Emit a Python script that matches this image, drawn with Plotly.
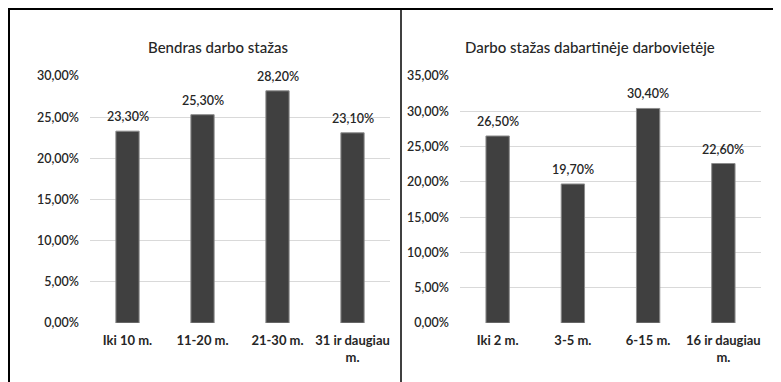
import plotly.graph_objects as go

W, H = 781, 382
OFF = 8  # page body margin offset

# Data
cats_left = ["Iki 10 m.", "11-20 m.", "21-30 m.", "31 ir daugiau<br>m."]
vals_left = [23.3, 25.3, 28.2, 23.1]
title_left = "Bendras darbo stažas"

cats_right = ["Iki 2 m.", "3-5 m.", "6-15 m.", "16 ir daugiau<br>m."]
vals_right = [26.5, 19.7, 30.4, 22.6]
title_right = "Darbo stažas dabartinėje darbovietėje"

ticks_left = [0, 5, 10, 15, 20, 25, 30]
ticks_right = [0, 5, 10, 15, 20, 25, 30, 35]


def pct(v):
    return f"{v:.2f}".replace(".", ",") + "%"


def px(x):
    return (x - OFF) / W


def py(y):
    return 1 - (y - OFF) / H


FONT = "Lato"
TXT = "#262626"
BAR = "#404040"
GRID = "#d9d9d9"

fig = go.Figure()
for cats, vals, xa, ya in [(cats_left, vals_left, "x", "y"),
                           (cats_right, vals_right, "x2", "y2")]:
    fig.add_trace(go.Bar(
        x=cats, y=vals, xaxis=xa, yaxis=ya,
        marker=dict(color=BAR, line=dict(color="#8c8c8c", width=1)),
        width=0.31, showlegend=False, hoverinfo="skip"))

annotations = []
for cats, vals, xa, ya in [(cats_left, vals_left, "x", "y"),
                           (cats_right, vals_right, "x2", "y2")]:
    for c, v in zip(cats, vals):
        annotations.append(dict(
            x=c, y=v, xref=xa, yref=ya, text=pct(v), showarrow=False,
            yanchor="bottom", xanchor="center", yshift=5,
            font=dict(family=FONT, size=12.5, color=TXT, weight=600)))

annotations += [
    dict(text=title_left, x=px(218), y=py(47), xref="paper", yref="paper",
         showarrow=False, font=dict(family=FONT, size=15, color=TXT, weight=500),
         xanchor="center", yanchor="middle"),
    dict(text=title_right, x=px(590), y=py(47), xref="paper", yref="paper",
         showarrow=False, font=dict(family=FONT, size=15, color=TXT, weight=500),
         xanchor="center", yanchor="middle"),
]

ydom = [py(323), py(76)]
axis_common = dict(showline=False, zeroline=False, fixedrange=True, automargin=False)

fig.update_layout(
    width=W, height=H,
    margin=dict(l=0, r=0, t=0, b=0, pad=0),
    paper_bgcolor="white", plot_bgcolor="white",
    font=dict(family=FONT, size=12, color=TXT),
    xaxis=dict(domain=[px(90), px(390)], anchor="y", showgrid=False,
               tickfont=dict(family=FONT, size=13, color=TXT, weight="bold"),
               ticks="", ticklabelstandoff=8, **axis_common),
    yaxis=dict(domain=ydom, anchor="x", range=[0, 30],
               tickvals=ticks_left, ticktext=[pct(t) for t in ticks_left],
               showgrid=True, gridcolor=GRID, gridwidth=1,
               tickfont=dict(family=FONT, size=12.5, color=TXT, weight=600),
               ticks="", ticklabelstandoff=10, **axis_common),
    xaxis2=dict(domain=[px(460), px(761)], anchor="y2", showgrid=False,
                tickfont=dict(family=FONT, size=13, color=TXT, weight="bold"),
                ticks="", ticklabelstandoff=8, **axis_common),
    yaxis2=dict(domain=ydom, anchor="x2", range=[0, 35],
                tickvals=ticks_right, ticktext=[pct(t) for t in ticks_right],
                showgrid=True, gridcolor=GRID, gridwidth=1,
                tickfont=dict(family=FONT, size=12.5, color=TXT, weight=600),
                ticks="", ticklabelstandoff=10, **axis_common),
    annotations=annotations,
    shapes=[
        dict(type="line", xref="paper", yref="paper", x0=0, x1=1, y0=1 - 1 / H, y1=1 - 1 / H,
             line=dict(color="black", width=2)),
        dict(type="line", xref="paper", yref="paper", x0=1 / W, x1=1 / W, y0=0, y1=1 - 1 / H,
             line=dict(color="black", width=2)),
        dict(type="line", xref="paper", yref="paper", x0=px(401), x1=px(401), y0=0, y1=1 - 1 / H,
             line=dict(color="black", width=1.5)),
    ],
    bargap=0.69,
)

fig.write_html("out.html")
